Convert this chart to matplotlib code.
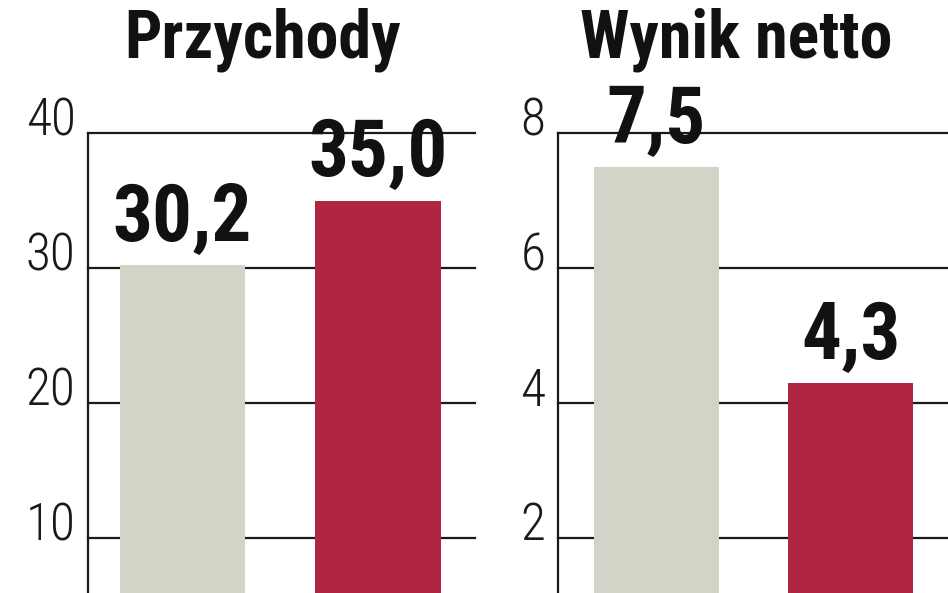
import matplotlib
matplotlib.use("Agg")
import matplotlib.pyplot as plt
from matplotlib.transforms import ScaledTranslation
from matplotlib import font_manager

names = {f.name for f in font_manager.fontManager.ttflist}
narrow = [n for n in ["Liberation Sans Narrow", "DejaVu Sans Condensed", "Roboto Condensed", "Open Sans Condensed"] if n in names]
FAM = narrow + ["DejaVu Sans"]
plt.rcParams['font.family'] = FAM

# Data
categories = ["A", "B"]
rev_values = [30.2, 35.0]
rev_labels = ["30,2", "35,0"]
net_values = [7.5, 4.3]
net_labels = ["7,5", "4,3"]
rev_ticks = [10, 20, 30, 40]
net_ticks = [2, 4, 6, 8]
titles = ["Przychody", "Wynik netto"]

GREY = "#D3D3C8"
RED = "#B02541"
W, H = 948, 593
fig = plt.figure(figsize=(W / 100, H / 100), dpi=100)

def px_axes(x0, x1, ytop):
    return fig.add_axes([x0 / W, 0, (x1 - x0) / W, (H - ytop) / H])

panels = [
    dict(x0=88, x1=475, values=rev_values, labels=rev_labels, ticks=rev_ticks,
         ylim=(40 - 460 / 13.5, 40), xlim=(-0.483, 1.496), width=0.64,
         title=titles[0], tx=263),
    dict(x0=558, x1=948, values=net_values, labels=net_labels, ticks=net_ticks,
         ylim=(8 - 460 / 67.5, 8), xlim=(-0.506, 1.499), width=0.643,
         title=titles[1], tx=736),
]

for p in panels:
    ax = px_axes(p["x0"], p["x1"], 133)
    ax.set_xlim(*p["xlim"])
    ax.set_ylim(*p["ylim"])
    for t in p["ticks"]:
        ax.axhline(t, color="#1a1a1a", lw=1.6, zorder=1, clip_on=False)
    ax.bar(range(len(categories)), p["values"], width=p["width"],
           color=[GREY, RED], zorder=2)
    for i, (v, lab) in enumerate(zip(p["values"], p["labels"])):
        ax.annotate(lab, (i, v), xytext=(0, 24), textcoords="offset pixels",
                    ha="center", va="baseline", fontsize=57, fontweight="bold",
                    color="#111111", zorder=3)
    for s in ["top", "right", "bottom"]:
        ax.spines[s].set_visible(False)
    ax.spines["left"].set_linewidth(1.6)
    ax.spines["left"].set_color("#1a1a1a")
    ax.set_xticks([])
    ax.set_yticks(p["ticks"])
    ax.set_yticklabels([str(t) for t in p["ticks"]])
    ax.tick_params(axis="y", length=0, pad=9, labelsize=37, labelcolor="#1a1a1a")
    for lbl in ax.get_yticklabels():
        lbl.set_fontweight("light")
        lbl.set_transform(lbl.get_transform() + ScaledTranslation(0, 17 / 100, fig.dpi_scale_trans))
    fig.text(p["tx"] / W, (H - 57) / H, p["title"], ha="center", va="baseline",
             fontsize=47.5, fontweight="bold", color="#111111")

fig.savefig("out.png", dpi=100, facecolor="white")
